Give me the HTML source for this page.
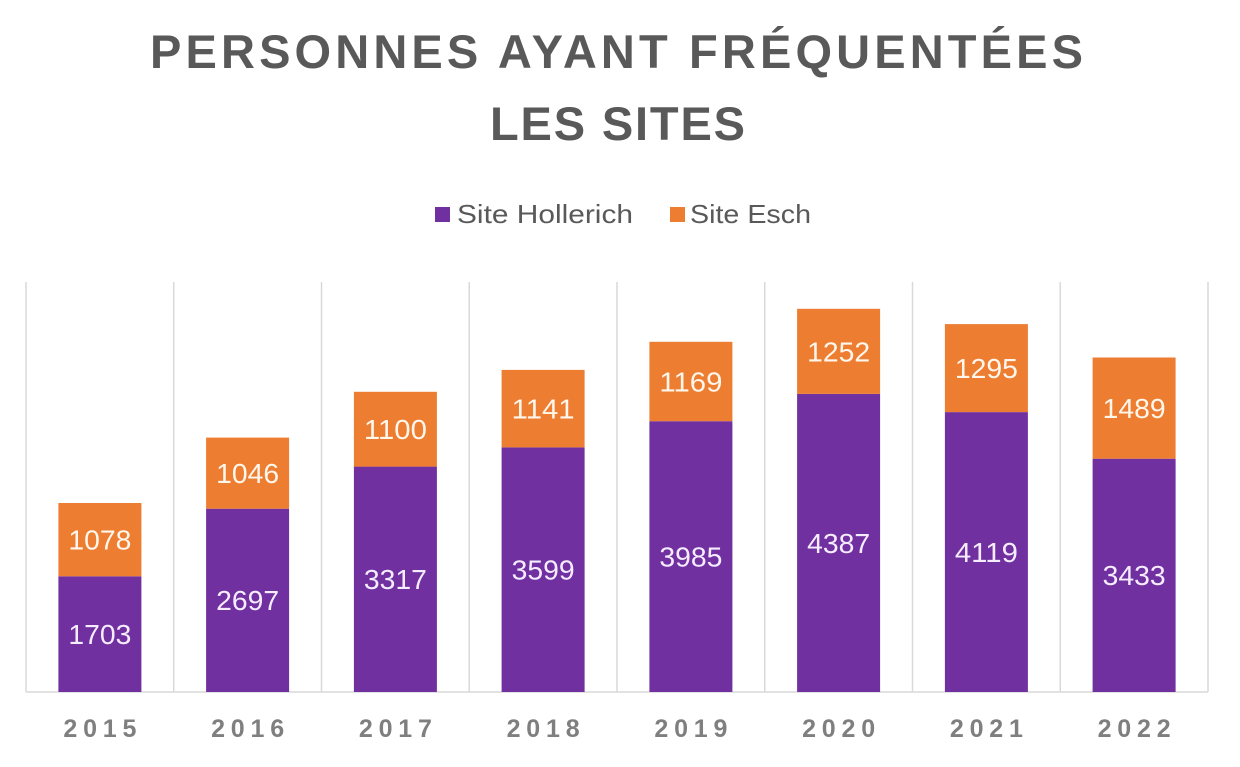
<!DOCTYPE html>
<html>
<head>
<meta charset="utf-8">
<style>
  html,body{margin:0;padding:0;background:#fff;}
  svg{display:block;}
  text{font-family:"Liberation Sans",Arial,sans-serif;}
</style>
</head>
<body>
<svg width="1240" height="767" viewBox="0 0 1240 767" xmlns="http://www.w3.org/2000/svg">
  <rect width="1240" height="767" fill="#fff"/>
  <!-- Title -->
  <text x="616.5" y="68" text-anchor="middle" font-size="47" font-weight="bold" fill="#595959" textLength="933" lengthAdjust="spacing">PERSONNES AYANT FRÉQUENTÉES</text>
  <text x="617.5" y="140" text-anchor="middle" font-size="47" font-weight="bold" fill="#595959" textLength="255" lengthAdjust="spacing">LES SITES</text>

  <!-- Legend -->
  <rect x="435" y="207" width="15" height="15" fill="#7030A0"/>
  <text x="457" y="223" font-size="26" fill="#595959" textLength="176" lengthAdjust="spacingAndGlyphs">Site Hollerich</text>
  <rect x="670" y="207" width="15" height="15" fill="#ED7D31"/>
  <text x="690" y="223" font-size="26" fill="#595959" textLength="121" lengthAdjust="spacingAndGlyphs">Site Esch</text>

  <!-- Gridlines -->
  <g stroke="#d9d9d9" stroke-width="1.5">
    <line x1="26" y1="282" x2="26" y2="692"/>
    <line x1="173.75" y1="282" x2="173.75" y2="692"/>
    <line x1="321.5" y1="282" x2="321.5" y2="692"/>
    <line x1="469.25" y1="282" x2="469.25" y2="692"/>
    <line x1="617" y1="282" x2="617" y2="692"/>
    <line x1="764.75" y1="282" x2="764.75" y2="692"/>
    <line x1="912.5" y1="282" x2="912.5" y2="692"/>
    <line x1="1060.25" y1="282" x2="1060.25" y2="692"/>
    <line x1="1208" y1="282" x2="1208" y2="692"/>
    <line x1="26" y1="692" x2="1208" y2="692"/>
  </g>

  <!-- Bars -->
  <g>
    <rect x="58.4" y="576.3" width="83" height="115.7" fill="#7030A0"/>
    <rect x="58.4" y="503.0" width="83" height="73.3" fill="#ED7D31"/>
    <rect x="206.1" y="508.7" width="83" height="183.3" fill="#7030A0"/>
    <rect x="206.1" y="437.6" width="83" height="71.1" fill="#ED7D31"/>
    <rect x="353.9" y="466.6" width="83" height="225.4" fill="#7030A0"/>
    <rect x="353.9" y="391.8" width="83" height="74.8" fill="#ED7D31"/>
    <rect x="501.6" y="447.4" width="83" height="244.6" fill="#7030A0"/>
    <rect x="501.6" y="369.9" width="83" height="77.5" fill="#ED7D31"/>
    <rect x="649.4" y="421.2" width="83" height="270.8" fill="#7030A0"/>
    <rect x="649.4" y="341.8" width="83" height="79.4" fill="#ED7D31"/>
    <rect x="797.1" y="393.9" width="83" height="298.1" fill="#7030A0"/>
    <rect x="797.1" y="308.8" width="83" height="85.1" fill="#ED7D31"/>
    <rect x="944.9" y="412.1" width="83" height="279.9" fill="#7030A0"/>
    <rect x="944.9" y="324.1" width="83" height="88.0" fill="#ED7D31"/>
    <rect x="1092.6" y="458.7" width="83" height="233.3" fill="#7030A0"/>
    <rect x="1092.6" y="357.5" width="83" height="101.2" fill="#ED7D31"/>
  </g>

  <!-- Data labels -->
  <g font-size="28" text-anchor="middle">
    <g fill="#f6ecff">
    <text x="99.9" y="644" textLength="63" lengthAdjust="spacingAndGlyphs">1703</text>
    <text x="247.6" y="610" textLength="63" lengthAdjust="spacingAndGlyphs">2697</text>
    <text x="395.4" y="589" textLength="63" lengthAdjust="spacingAndGlyphs">3317</text>
    <text x="543.1" y="579.5" textLength="63" lengthAdjust="spacingAndGlyphs">3599</text>
    <text x="690.9" y="566.5" textLength="63" lengthAdjust="spacingAndGlyphs">3985</text>
    <text x="838.6" y="553" textLength="63" lengthAdjust="spacingAndGlyphs">4387</text>
    <text x="986.4" y="562" textLength="63" lengthAdjust="spacingAndGlyphs">4119</text>
    <text x="1134.1" y="585" textLength="63" lengthAdjust="spacingAndGlyphs">3433</text>
    </g>
    <g fill="#fff6ec">
    <text x="99.9" y="549.5" textLength="63" lengthAdjust="spacingAndGlyphs">1078</text>
    <text x="247.6" y="483" textLength="63" lengthAdjust="spacingAndGlyphs">1046</text>
    <text x="395.4" y="439" textLength="63" lengthAdjust="spacingAndGlyphs">1100</text>
    <text x="543.1" y="418.5" textLength="63" lengthAdjust="spacingAndGlyphs">1141</text>
    <text x="690.9" y="391.5" textLength="63" lengthAdjust="spacingAndGlyphs">1169</text>
    <text x="838.6" y="361.5" textLength="63" lengthAdjust="spacingAndGlyphs">1252</text>
    <text x="986.4" y="378" textLength="63" lengthAdjust="spacingAndGlyphs">1295</text>
    <text x="1134.1" y="418" textLength="63" lengthAdjust="spacingAndGlyphs">1489</text>
    </g>
  </g>

  <!-- X axis labels -->
  <g font-size="25" font-weight="bold" fill="#7f7f7f" text-anchor="middle">
    <text x="99.9" y="737" textLength="73" lengthAdjust="spacing">2015</text>
    <text x="247.6" y="737" textLength="73" lengthAdjust="spacing">2016</text>
    <text x="395.4" y="737" textLength="73" lengthAdjust="spacing">2017</text>
    <text x="543.1" y="737" textLength="73" lengthAdjust="spacing">2018</text>
    <text x="690.9" y="737" textLength="73" lengthAdjust="spacing">2019</text>
    <text x="838.6" y="737" textLength="73" lengthAdjust="spacing">2020</text>
    <text x="986.4" y="737" textLength="73" lengthAdjust="spacing">2021</text>
    <text x="1134.1" y="737" textLength="73" lengthAdjust="spacing">2022</text>
  </g>
</svg>
</body>
</html>
